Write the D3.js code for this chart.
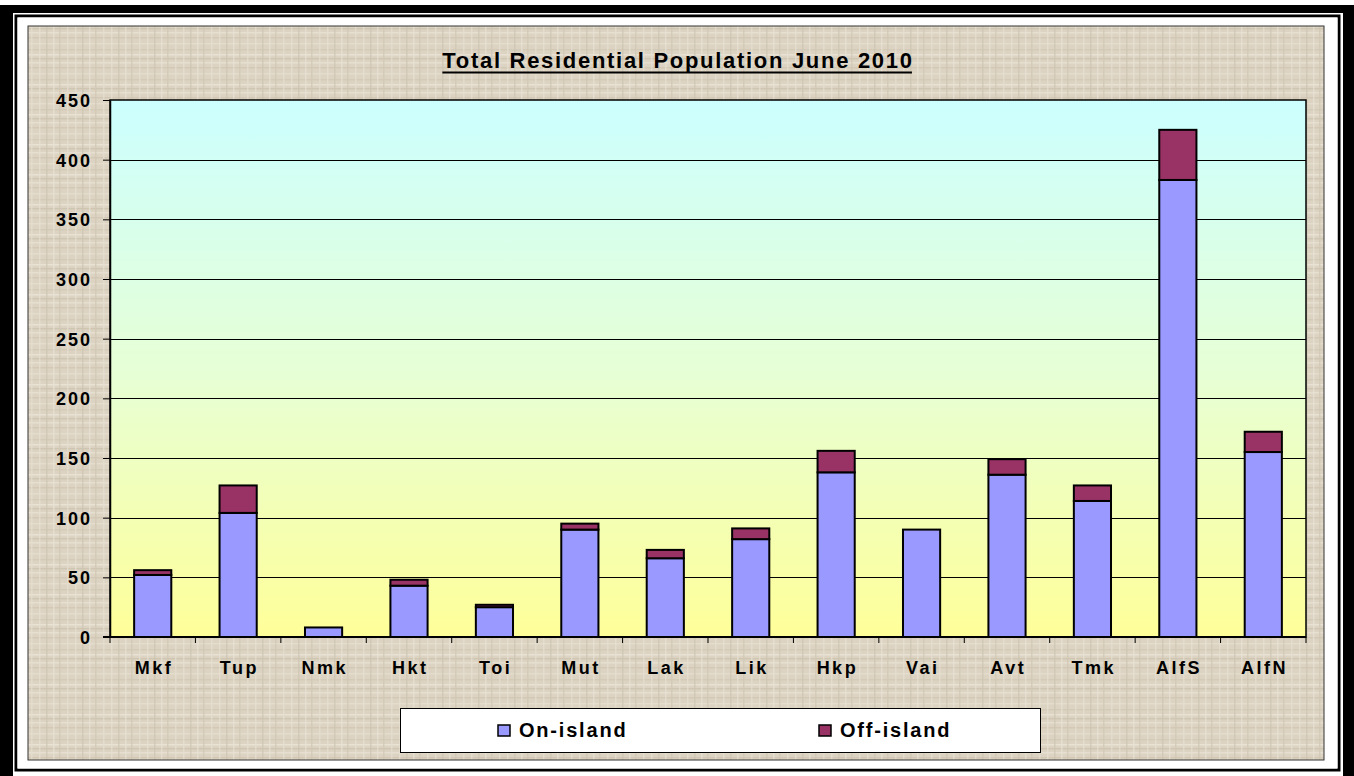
<!DOCTYPE html>
<html lang="en">
<head>
    <meta charset="UTF-8">
    <title>Total Residential Population June 2010</title>
    <script src="https://d3js.org/d3.v7.min.js"></script>
    <style>
        body { margin: 0; background: #fff; font-family: "Liberation Sans", Arial, sans-serif; }
        .axis text { font-size: 18px; font-weight: bold; fill: #000; letter-spacing: 2px; }
        .axis path, .axis line { stroke: #000; }
    </style>
</head>
<body>
    <div id="chart"></div>

    <script>
        // data
        const categories = ["Mkf", "Tup", "Nmk", "Hkt", "Toi", "Mut", "Lak", "Lik", "Hkp", "Vai", "Avt", "Tmk", "AlfS", "AlfN"];
        const onIsland  = [52, 104, 8, 43, 25, 90, 66, 82, 138, 90, 136, 114, 383, 155];
        const offIsland = [4, 23, 0, 5, 2, 5, 7, 9, 18, 0, 13, 13, 42, 17];
        const seriesNames = ["On-island", "Off-island"];
        const seriesColors = ["#9999FF", "#993366"];
        const yTicks = [0, 50, 100, 150, 200, 250, 300, 350, 400, 450];

        const W = 1354, H = 776;
        const plot = {left: 110, right: 1306, top: 100, bottom: 637};

        const svg = d3.select("#chart").append("svg")
            .attr("width", W)
            .attr("height", H);

        const defs = svg.append("defs");

        // canvas-like texture for the chart area
        const pat = defs.append("pattern")
            .attr("id", "canvas")
            .attr("patternUnits", "userSpaceOnUse")
            .attr("width", 36)
            .attr("height", 30);
        pat.append("rect").attr("width", 36).attr("height", 30).attr("fill", "#DCD3C2");
        [[2, "#E9E2D4"], [7, "#CFC5B2"], [13, "#E6DFD0"], [19, "#D2C8B5"], [24, "#EBE5D8"], [28, "#CCC2AF"]].forEach(([y, c]) => {
            pat.append("rect").attr("x", 0).attr("y", y).attr("width", 36).attr("height", 1.5).attr("fill", c).attr("opacity", 0.8);
        });
        [[3, "#E8E1D3"], [10, "#CEC4B1"], [17, "#E9E3D6"], [23, "#D0C6B3"], [31, "#E6DFD1"]].forEach(([x, c]) => {
            pat.append("rect").attr("x", x).attr("y", 0).attr("width", 1.5).attr("height", 30).attr("fill", c).attr("opacity", 0.7);
        });

        const grad = defs.append("linearGradient")
            .attr("id", "plotBg")
            .attr("x1", 0).attr("y1", 0).attr("x2", 0).attr("y2", 1);
        grad.append("stop").attr("offset", "0%").attr("stop-color", "#CCFFFF");
        grad.append("stop").attr("offset", "50%").attr("stop-color", "#E6FFD6");
        grad.append("stop").attr("offset", "100%").attr("stop-color", "#FFFF99");

        // frames
        svg.append("rect").attr("x", 0).attr("y", 5).attr("width", W).attr("height", H).attr("fill", "#000");
        svg.append("rect").attr("x", 13).attr("y", 13).attr("width", 1343 - 13).attr("height", H).attr("fill", "#fff");
        svg.append("rect").attr("x", 16).attr("y", 16).attr("width", 1339 - 16).attr("height", 770 - 16)
            .attr("fill", "none").attr("stroke", "#000").attr("stroke-width", 3);
        svg.append("rect").attr("x", 17.5).attr("y", 17.5).attr("width", 1337.5 - 17.5).attr("height", 768.5 - 17.5)
            .attr("fill", "#fff");
        svg.append("rect").attr("x", 28).attr("y", 26).attr("width", 1324 - 28).attr("height", 760 - 26)
            .attr("fill", "url(#canvas)").attr("stroke", "#333").attr("stroke-width", 1);

        // scales
        const x = d3.scaleBand()
            .domain(categories)
            .range([plot.left, plot.right])
            .paddingInner(0.565)
            .paddingOuter(0.2825);

        const y = d3.scaleLinear()
            .domain([0, 450])
            .range([plot.bottom, plot.top]);

        // plot area
        svg.append("rect")
            .attr("x", plot.left).attr("y", plot.top)
            .attr("width", plot.right - plot.left).attr("height", plot.bottom - plot.top)
            .attr("fill", "url(#plotBg)");

        svg.append("g")
            .selectAll("line")
            .data(yTicks.filter(d => d > 0 && d < 450))
            .join("line")
            .attr("x1", plot.left).attr("x2", plot.right)
            .attr("y1", d => Math.round(y(d)) + 0.5).attr("y2", d => Math.round(y(d)) + 0.5)
            .attr("stroke", "#000").attr("stroke-width", 1);

        svg.append("rect")
            .attr("x", plot.left).attr("y", plot.top)
            .attr("width", plot.right - plot.left).attr("height", plot.bottom - plot.top)
            .attr("fill", "none").attr("stroke", "#000").attr("stroke-width", 1.5);

        // stacked bars
        const rows = categories.map((c, i) => ({cat: c, on: onIsland[i], off: offIsland[i]}));
        const stacked = d3.stack().keys(["on", "off"])(rows);

        svg.append("g")
            .selectAll("g")
            .data(stacked)
            .join("g")
            .attr("fill", (d, i) => seriesColors[i])
            .selectAll("rect")
            .data(d => d.filter(s => s[1] > s[0]))
            .join("rect")
            .attr("x", d => x(d.data.cat))
            .attr("width", x.bandwidth())
            .attr("y", d => y(d[1]))
            .attr("height", d => y(d[0]) - y(d[1]))
            .attr("stroke", "#000")
            .attr("stroke-width", 2);

        // axes
        svg.append("g")
            .attr("class", "axis")
            .attr("transform", `translate(${plot.left},0)`)
            .call(d3.axisLeft(y).tickValues(yTicks).tickSize(7).tickSizeOuter(0).tickPadding(11))
            .call(g => g.select(".domain").attr("stroke-width", 1.5))
            .call(g => g.selectAll("text").attr("dy", "0.36em"));

        svg.append("line")
            .attr("x1", plot.left - 7).attr("x2", plot.right)
            .attr("y1", plot.bottom).attr("y2", plot.bottom)
            .attr("stroke", "#000").attr("stroke-width", 2);

        const xTicks = d3.range(categories.length + 1).map(i => plot.left + i * x.step());
        svg.append("g")
            .selectAll("line")
            .data(xTicks)
            .join("line")
            .attr("x1", d => d).attr("x2", d => d)
            .attr("y1", plot.bottom).attr("y2", plot.bottom + 6)
            .attr("stroke", "#000").attr("stroke-width", 1);

        svg.append("g")
            .selectAll("text")
            .data(categories)
            .join("text")
            .attr("x", d => x(d) + x.bandwidth() / 2 + 1.25)
            .attr("y", 674)
            .attr("text-anchor", "middle")
            .attr("font-size", 18)
            .attr("font-weight", "bold")
            .attr("letter-spacing", 2.5)
            .text(d => d);

        // title
        const title = svg.append("text")
            .attr("x", 678)
            .attr("y", 68)
            .attr("text-anchor", "middle")
            .attr("font-size", 22)
            .attr("font-weight", "bold")
            .attr("letter-spacing", 1.7)
            .text("Total Residential Population June 2010");
        const tb = title.node().getBBox();
        svg.append("line")
            .attr("x1", tb.x).attr("x2", tb.x + tb.width - 1.7)
            .attr("y1", 72.5).attr("y2", 72.5)
            .attr("stroke", "#000").attr("stroke-width", 2);

        // legend
        const legend = svg.append("g");
        legend.append("rect")
            .attr("x", 400.5).attr("y", 708.5).attr("width", 640).attr("height", 44)
            .attr("fill", "#fff").attr("stroke", "#000").attr("stroke-width", 1);
        const legendX = [498, 819];
        seriesNames.forEach((name, i) => {
            legend.append("rect")
                .attr("x", legendX[i]).attr("y", 725).attr("width", 12).attr("height", 11)
                .attr("fill", seriesColors[i]).attr("stroke", "#000").attr("stroke-width", 1.5);
            legend.append("text")
                .attr("x", legendX[i] + 21).attr("y", 737)
                .attr("font-size", 20)
                .attr("font-weight", "bold")
                .attr("letter-spacing", 1.8)
                .text(name);
        });
    </script>
</body>
</html>
